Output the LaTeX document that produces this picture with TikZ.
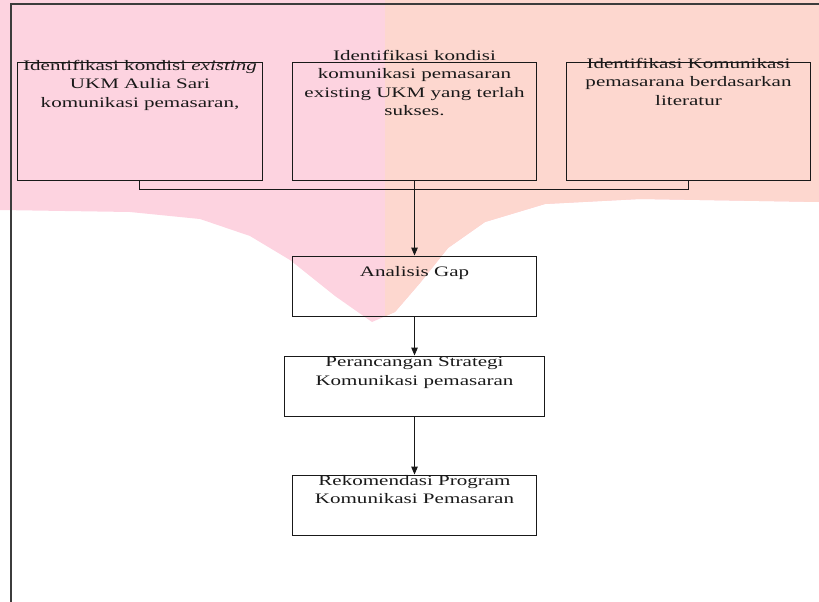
\documentclass[tikz,border=0pt]{standalone}
\usepackage{fontspec}
\setmainfont[FakeStretch=1.45]{Liberation Serif}
\usetikzlibrary{arrows.meta}
\definecolor{wmpink}{RGB}{253,211,224}
\definecolor{wmpeach}{RGB}{253,215,207}
\definecolor{ink}{RGB}{25,25,25}
\tikzset{
  box/.style={draw=ink, line width=0.9pt, inner sep=0pt, rectangle},
  lbl/.style={inner sep=0pt, align=center, text=ink, font=\fontsize{14.5}{18.5}\selectfont, anchor=north},
  conn/.style={draw=ink, line width=1.1pt},
  arrowconn/.style={conn, -{Triangle[length=8pt,width=6.5pt]}},
  frameline/.style={draw=ink!85, line width=1.2pt}
}
\begin{document}
\begin{tikzpicture}[x=1pt,y=-1pt]
\useasboundingbox (0,0) rectangle (819,602);
% watermark
\def\wmshape{(0,0) -- (819,0) -- (819,202) -- (640,199) -- (545,204) -- (485,222) -- (448,248) -- (420,283) -- (395,312) -- (372,322) -- (335,296) -- (290,260) -- (250,236) -- (200,219) -- (130,212) -- (0,210) -- cycle}
\fill[wmpink] \wmshape;
\begin{scope}
  \clip (385,0) rectangle (819,602);
  \fill[wmpeach] \wmshape;
\end{scope}
% frame
\draw[frameline] (11,602) -- (11,4) -- (819,4);
% boxes
\node[box, minimum width=245pt, minimum height=118pt] (b1) at (139.5,121) {};
\node[box, minimum width=244.5pt, minimum height=118pt] (b2) at (414.5,121) {};
\node[box, minimum width=244.7pt, minimum height=118pt] (b3) at (688.3,121) {};
\node[box, minimum width=244pt, minimum height=60pt] (gap) at (414.5,286) {};
\node[box, minimum width=260pt, minimum height=60pt] (strat) at (414.5,386) {};
\node[box, minimum width=244pt, minimum height=60pt] (rek) at (414.5,505) {};
% texts
\node[lbl] (t1) at (140,60) {Identifikasi kondisi \textit{existing}\\UKM Aulia Sari\\komunikasi pemasaran,};
\node[lbl] (t2) at (414.5,50) {Identifikasi kondisi\\komunikasi pemasaran\\existing UKM yang terlah\\sukses.};
\node[lbl] (t3) at (688.5,58) {Identifikasi Komunikasi\\pemasarana berdasarkan\\literatur};
\node[lbl] (tgap) at (414.5,266) {Analisis Gap};
\node[lbl] (tstrat) at (414.5,357) {Perancangan Strategi\\Komunikasi pemasaran};
\node[lbl] (trek) at (414.5,475) {Rekomendasi Program\\Komunikasi Pemasaran};
% connectors
\draw[conn] (b1.south) -- ++(0,9) coordinate (j1) -| (b3.south);
\draw[arrowconn] (b2.south) -- (gap.north);
\draw[arrowconn] (gap.south) -- (strat.north);
\draw[arrowconn] (strat.south) -- (rek.north);
\end{tikzpicture}
\end{document}
